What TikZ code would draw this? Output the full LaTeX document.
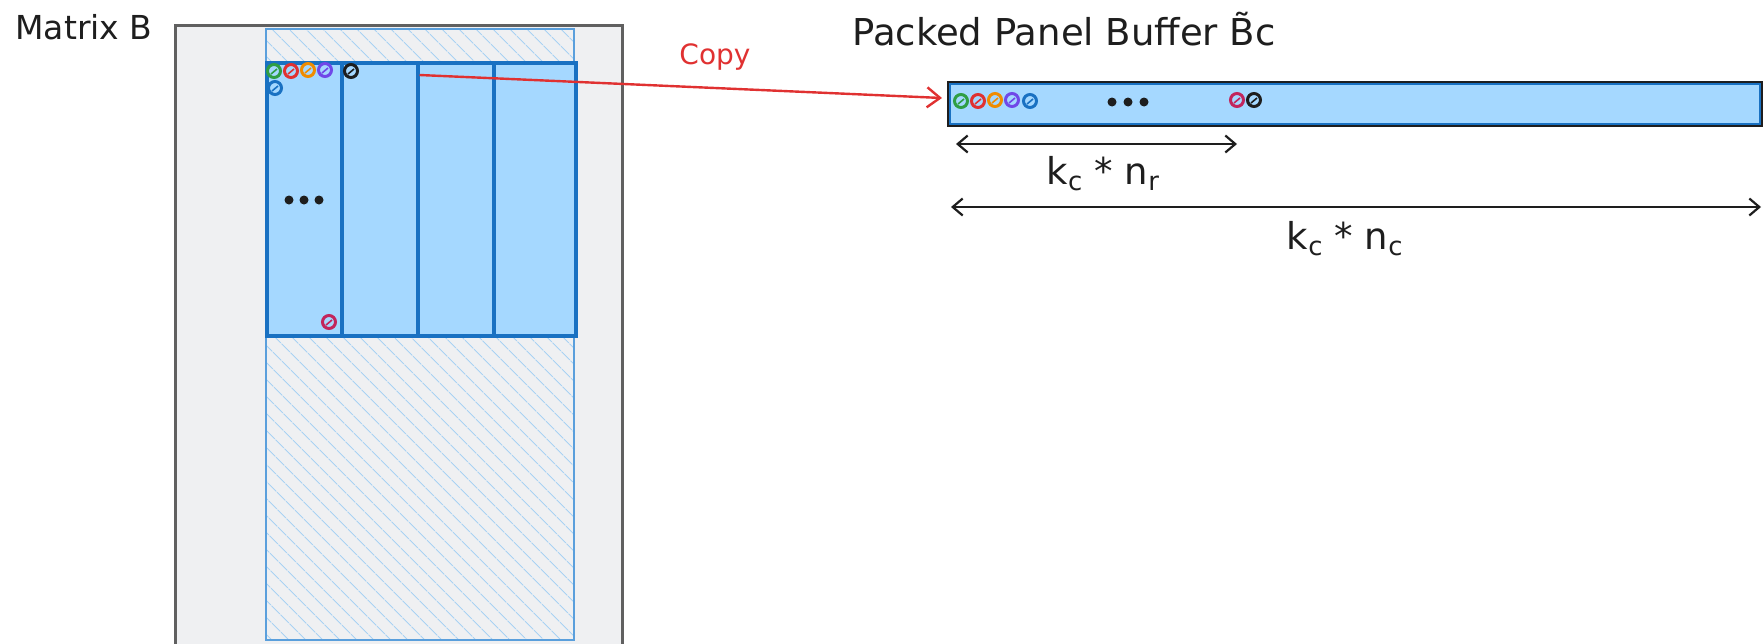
\documentclass[tikz,border=0pt]{standalone}
\usepackage{fontspec}
\setmainfont{DejaVu Sans}
\usetikzlibrary{arrows.meta,patterns.meta}

\definecolor{bggray}{HTML}{EFF0F2}
\definecolor{framegray}{HTML}{606060}
\definecolor{hatchedge}{HTML}{5A9FDC}
\definecolor{hatchline}{HTML}{A9D2F3}
\definecolor{fillblue}{HTML}{A5D8FF}
\definecolor{panelblue}{HTML}{1971C2}
\definecolor{inkblack}{HTML}{1E1E1E}
\definecolor{copyred}{HTML}{E03131}
\definecolor{cgreen}{HTML}{2F9E44}
\definecolor{cred}{HTML}{E03131}
\definecolor{corange}{HTML}{F08C00}
\definecolor{cpurple}{HTML}{7048E8}
\definecolor{cblue}{HTML}{1971C2}
\definecolor{cpink}{HTML}{C2255C}

\tikzset{
  handtext/.style={font=\fontsize{33}{40}\selectfont, text=inkblack, inner sep=0pt},
  ringmark/.style={circle, draw=#1, line width=3pt, minimum size=13pt, inner sep=0pt,
    path picture={\draw[#1, line width=1.6pt]
      ([shift={(-3pt,-3pt)}]path picture bounding box.center) --
      ([shift={(3pt,2pt)}]path picture bounding box.center);}},
  dotmark/.style={circle, fill=inkblack, minimum size=9pt, inner sep=0pt},
  blockpanel/.style={draw=panelblue, fill=fillblue, line width=3.5pt,
    minimum height=273pt, anchor=north west, inner sep=0pt},
  copyarrow/.style={draw=copyred, line width=2.4pt,
    -{Straight Barb[length=13pt, width=20pt, line width=2.4pt]}},
  dimarrow/.style={draw=inkblack, line width=2.2pt,
    {Straight Barb[length=10pt, width=17pt, line width=2.2pt]}-{Straight Barb[length=10pt, width=17pt, line width=2.2pt]}},
}

\begin{document}
\begin{tikzpicture}[x=1pt, y=-1pt]
\useasboundingbox (0,0) rectangle (1763,643);
\clip (0,0) rectangle (1763,643);

% Matrix B with its hatched column band
\node[draw=framegray, fill=bggray, line width=3pt, anchor=north west,
      minimum width=447pt, minimum height=625pt, inner sep=0pt] (matB) at (174,24) {};
\node[draw=hatchedge, line width=2pt, anchor=north west,
      pattern={Lines[angle=-45, distance=13pt, line width=1.1pt]}, pattern color=hatchline,
      minimum width=308pt, minimum height=611pt, inner sep=0pt] (band) at (265,28) {};

% the block of four micro-panels
\node[blockpanel, minimum width=75pt] (p1) at (265,61) {};
\node[blockpanel, minimum width=76pt] (p2) at (340,61) {};
\node[blockpanel, minimum width=76pt] (p3) at (416,61) {};
\node[blockpanel, minimum width=82pt] (p4) at (492,61) {};

\node[handtext] (lblB) at (84,27) {Matrix B};

% elements inside the first panel
\node[ringmark=cgreen]  (a1) at (274,71) {};
\node[ringmark=cred]    (a2) at (291,71) {};
\node[ringmark=corange] (a3) at (308,70) {};
\node[ringmark=cpurple] (a4) at (325,70) {};
\node[ringmark=inkblack](a6) at (351,71) {};
\node[ringmark=cblue]   (a5) at (275,88) {};
\node[ringmark=cpink]   (a7) at (329,322) {};
\node[dotmark] (d1) at (289,200) {};
\node[dotmark] (d2) at (304,200) {};
\node[dotmark] (d3) at (319,200) {};

% packed buffer
\node[handtext, font=\fontsize{37}{44}\selectfont] (lblBuf) at (1064,29) {Packed Panel Buffer \~{B}c};
\node[draw=inkblack, line width=3pt, fill=fillblue, anchor=north west,
      minimum width=813pt, minimum height=43pt, inner sep=0pt] (buf) at (947,81) {};
\draw[panelblue, line width=1.8pt] ([shift={(3pt,-3pt)}]buf.north west) rectangle ([shift={(-3pt,3pt)}]buf.south east);

\node[ringmark=cgreen]  (b1) at (961,101) {};
\node[ringmark=cred]    (b2) at (978,101) {};
\node[ringmark=corange] (b3) at (995,100) {};
\node[ringmark=cpurple] (b4) at (1012,100) {};
\node[ringmark=cblue]   (b5) at (1030,101) {};
\node[dotmark] (e1) at (1112,102) {};
\node[dotmark] (e2) at (1128,102) {};
\node[dotmark] (e3) at (1144,102) {};
\node[ringmark=cpink]   (b6) at (1237,100) {};
\node[ringmark=inkblack](b7) at (1254,100) {};

% copy arrow
\draw[copyarrow] ([yshift=-14pt]p2.north east) -- ([xshift=-5pt, yshift=6pt]buf.west);
\node[handtext, text=copyred, font=\fontsize{28}{34}\selectfont] (lblCopy) at (715,57) {Copy};

% dimensions
\coordinate (nrL) at (956,144);
\coordinate (nrR) at (1237,144);
\draw[dimarrow] (nrL) -- (nrR);
\node[handtext, font=\fontsize{37}{44}\selectfont] (lblNr) at (1103,174) {k\textsubscript{c} * n\textsubscript{r}};

\coordinate (ncL) at (951,207);
\coordinate (ncR) at (1761,207);
\draw[dimarrow] (ncL) -- (ncR);
\node[handtext, font=\fontsize{37}{44}\selectfont] (lblNc) at (1345,239) {k\textsubscript{c} * n\textsubscript{c}};
\end{tikzpicture}
\end{document}
